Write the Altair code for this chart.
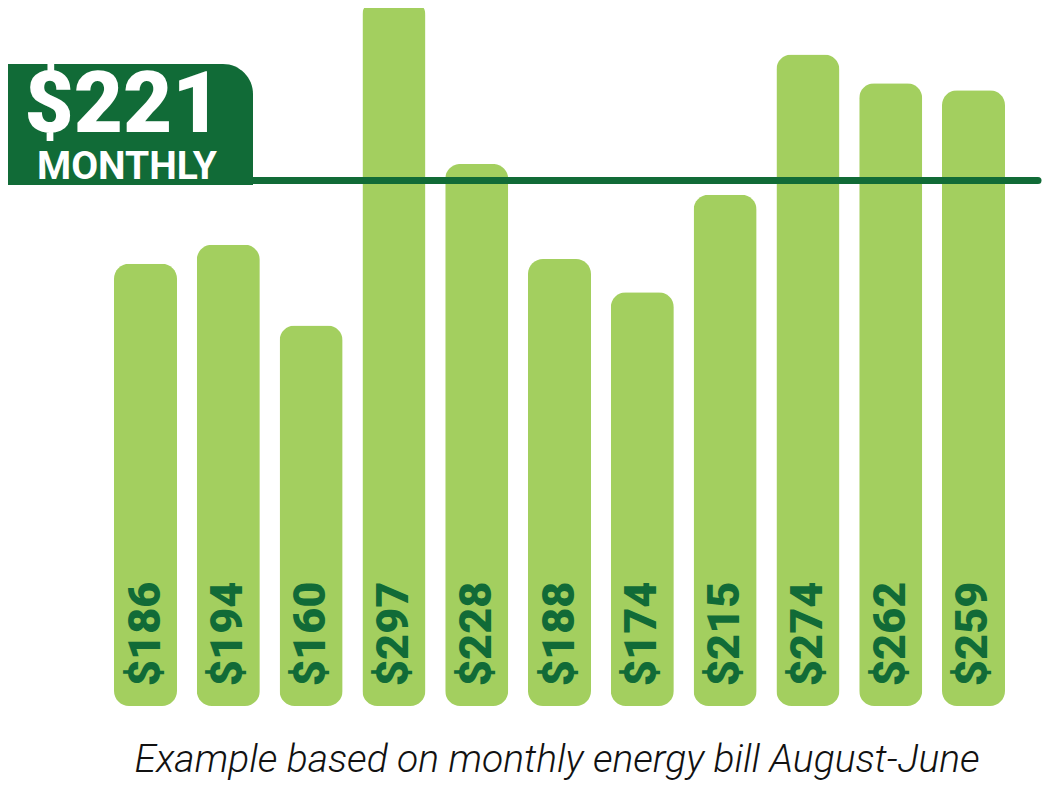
import altair as alt
import pandas as pd

months = ["Aug", "Sep", "Oct", "Nov", "Dec", "Jan", "Feb", "Mar", "Apr", "May", "Jun"]
bills = [186, 194, 160, 297, 228, 188, 174, 215, 274, 262, 259]
average = [221]
avg_word = ["MONTHLY"]
caption = ["Example based on monthly energy bill August-June"]

DARK = "#116b37"
LIGHT = "#a3cf5f"
HEAVY = "Roboto"

df = pd.DataFrame({"month": months, "bill": bills})
df["label"] = ["$" + str(v) for v in bills]
df["base"] = 0
avg_df = pd.DataFrame({"avg": average, "word": avg_word, "cap": caption})
avg_df["label"] = ["$" + str(v) for v in average]

W, H = 1034, 773
yscale = alt.Scale(domain=[0, 293.6], range=[698, 0], nice=False, zero=True)
xscale = alt.Scale(range=[106, 997], paddingInner=0.2391, paddingOuter=0, round=False)

base = alt.Chart(df)

bars = base.mark_bar(color=LIGHT, cornerRadius=15).encode(
    x=alt.X("month:N", sort=months, scale=xscale, axis=None),
    y=alt.Y("bill:Q", scale=yscale, axis=None),
)

labels = base.mark_text(
    angle=270, align="left", baseline="middle", dx=20,
    font=HEAVY, fontWeight=900, fontSize=45, color=DARK,
).encode(
    x=alt.X("month:N", sort=months, scale=xscale, axis=None),
    y=alt.Y("base:Q", scale=yscale, axis=None),
    text="label:N",
)

abase = alt.Chart(avg_df)

rule = abase.mark_rule(color=DARK, strokeWidth=7, strokeCap="round").encode(
    x=alt.value(200), x2=alt.value(1030),
    y=alt.Y("avg:Q", scale=yscale, axis=None),
)

box = abase.mark_rect(color=DARK, cornerRadiusTopRight=30).encode(
    x=alt.value(-8), x2=alt.value(245), y=alt.value(56), y2=alt.value(177),
)

big = abase.mark_text(
    align="center", baseline="alphabetic", font=HEAVY,
    fontWeight=900, fontSize=85, color="white",
).encode(x=alt.value(115), y=alt.value(124), text="label:N")

word = abase.mark_text(
    align="center", baseline="alphabetic", font=HEAVY,
    fontWeight="bold", fontSize=39, color="white",
).encode(x=alt.value(119), y=alt.value(171), text="word:N")

cap = abase.mark_text(
    align="center", baseline="alphabetic", font="Roboto",
    fontStyle="italic", fontWeight=300, fontSize=39, color="#111111",
).encode(x=alt.value(549), y=alt.value(764), text="cap:N")

chart = alt.layer(bars, labels, rule, box, big, word, cap).properties(
    width=W, height=H, padding=0, autosize=alt.AutoSizeParams(type="none"),
).configure_view(stroke=None)

chart.save("out.html", embed_options={"renderer": "svg", "actions": False})
